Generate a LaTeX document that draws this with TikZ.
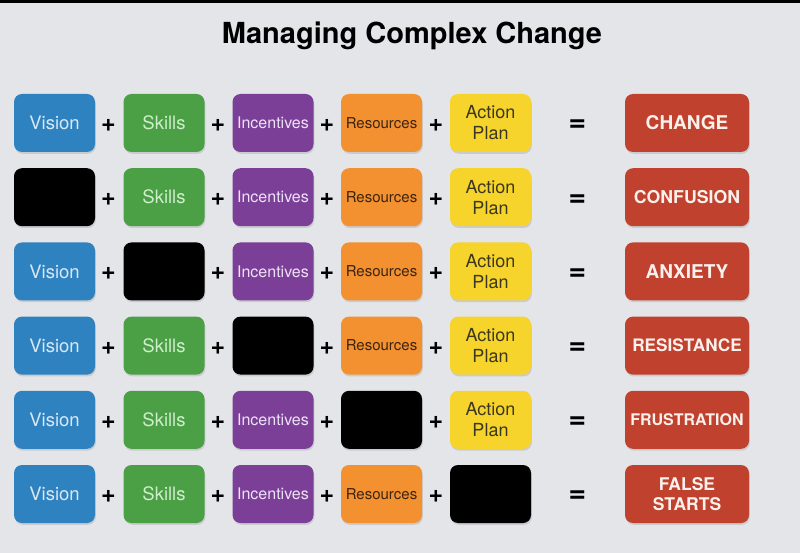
\documentclass[tikz,border=0pt]{standalone}
\usepackage{fontspec}
\setmainfont{TeX Gyre Heros}
\usetikzlibrary{positioning, shadows}
\usepackage{xcolor}

\definecolor{bgGray}{HTML}{E4E5E9}
\definecolor{visBlue}{HTML}{2F82C0}
\definecolor{visText}{HTML}{D8E8F5}
\definecolor{skGreen}{HTML}{4BA045}
\definecolor{skText}{HTML}{CDEFCB}
\definecolor{incPurple}{HTML}{7B3F98}
\definecolor{incText}{HTML}{EEE2F6}
\definecolor{resOrange}{HTML}{F39130}
\definecolor{resText}{HTML}{3D2410}
\definecolor{actYellow}{HTML}{F6D42B}
\definecolor{actText}{HTML}{3C3820}
\definecolor{outRed}{HTML}{C1412F}
\definecolor{outText}{HTML}{FAF1EC}

\begin{document}
\begin{tikzpicture}[x=1pt, y=-1pt,
    card/.style={rounded corners=8pt, minimum width=81pt, minimum height=58pt,
        inner sep=0pt, align=center,
        drop shadow={opacity=0.25, shadow xshift=0.8pt, shadow yshift=-1.8pt}},
    outcard/.style={card, minimum width=124pt, fill=outRed, text=outText},
    op/.style={font={\fontsize{25}{25}\selectfont\bfseries}, inner sep=0pt}]
    % background and top strip
    \fill[bgGray] (0,0) rectangle (800,553);
    \fill[black] (0,0) rectangle (800,3);
    \useasboundingbox (0,0) rectangle (800,553);

    \node[anchor=base, font={\fontsize{29}{29}\selectfont\bfseries}] (title) at (412,44) {Managing Complex Change};

    % one row per outcome, \gap is the missing part
    \foreach \r/\gap/\out/\fs in {1/0/CHANGE/19, 2/1/CONFUSION/17.7, 3/2/ANXIETY/19,
        4/3/RESISTANCE/17.2, 5/4/FRUSTRATION/16, 6/5/{FALSE\\STARTS}/17.5}{
        \pgfmathsetmacro{\yy}{123+74.2*(\r-1)}
        \foreach \c/\cx/\cfill/\ctext/\clabel/\csize in {1/54.5/visBlue/visText/Vision/18.5,
            2/164/skGreen/skText/Skills/18.5, 3/273/incPurple/incText/Incentives/16,
            4/381.5/resOrange/resText/Resources/15, 5/490.5/actYellow/actText/{Action\\Plan}/18}{
            \ifnum\c=\gap
                \node[card, fill=black] (b\r-\c) at (\cx,\yy) {};
            \else
                \node[card, fill=\cfill, text=\ctext, font={\fontsize{\csize}{21}\selectfont}] (b\r-\c) at (\cx,\yy) {\clabel};
            \fi
        }
        \foreach \c/\px in {1/108.5, 2/218, 3/327, 4/436}{
            \node[op] (p\r-\c) at (\px,\yy+2.5) {+};
        }
        \node[op, font={\fontsize{30}{30}\selectfont\bfseries}] (eq\r) at (577.5,\yy+3) {=};
        \node[outcard, font={\fontsize{\fs}{20}\selectfont\bfseries}] (out\r) at (687,\yy) {\out};
    }
\end{tikzpicture}
\end{document}
